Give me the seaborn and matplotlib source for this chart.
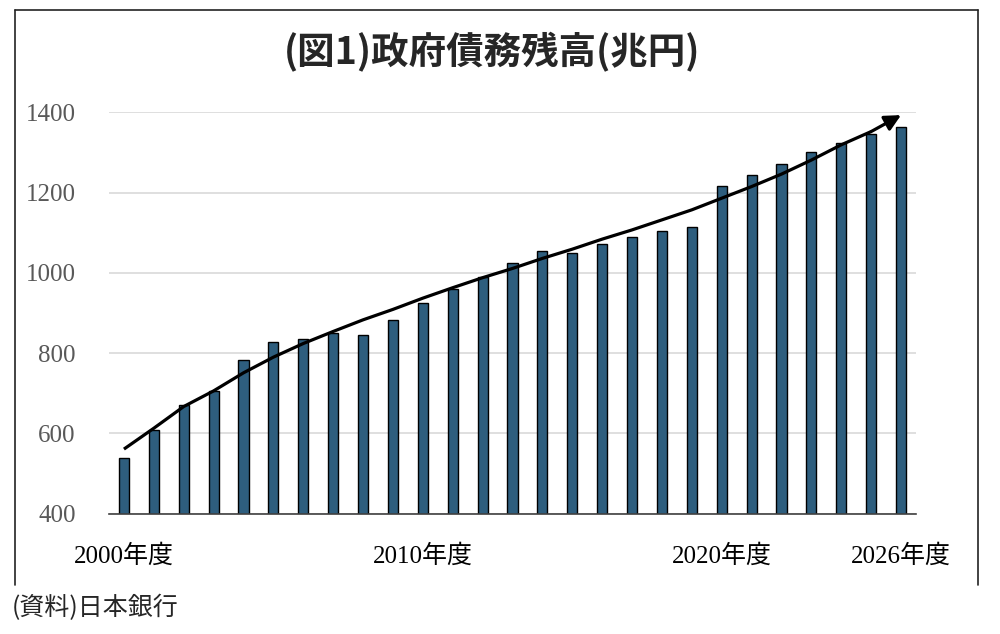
import numpy as np
import pandas as pd
import matplotlib
matplotlib.use('Agg')
import matplotlib.pyplot as plt
import seaborn as sns
from matplotlib.lines import Line2D

# Government debt outstanding (trillion yen), fiscal years 2000-2026
years = list(range(2000, 2027))
debt = [540, 608, 670, 705, 783, 829, 835, 849, 846, 883,
        925, 961, 990, 1025, 1054, 1050, 1072, 1089, 1104, 1115,
        1217, 1243, 1272, 1300, 1324, 1346, 1364]
# hand-drawn trend arrow, read per year
trend = [561, 613, 667, 706, 751, 790, 824, 854, 883, 909,
         937, 963, 988, 1011, 1036, 1059, 1084, 1107, 1132, 1157,
         1186, 1215, 1246, 1281, 1319, 1352, 1393]
tick_years = [2000, 2010, 2020, 2026]

title = "(図1)政府債務残高(兆円)"
source = "(資料)日本銀行"

sns.set_theme(style="white")
plt.rcParams['font.family'] = ['Liberation Serif', 'Noto Sans CJK JP']

df = pd.DataFrame({"year": [str(y) for y in years], "debt": debt})

fig = plt.figure(figsize=(10, 6.34), dpi=100)
ax = fig.add_axes([0.109, 0.1897, 0.807, 0.6332])

sns.barplot(data=df, x="year", y="debt", color="#2E5E7E", width=0.34,
            edgecolor="black", linewidth=1.0, saturation=1, ax=ax, zorder=3)

# trend curve with arrow head
pos = np.arange(len(years))
ax.plot(pos[:-1], trend[:-1], color="black", lw=2.3, zorder=4,
        solid_capstyle="butt", solid_joinstyle="round", clip_on=False)
ax.annotate("", xy=(pos[-1], trend[-1]), xytext=(pos[-2], trend[-2]),
            arrowprops=dict(arrowstyle="-|>", color="black", lw=2.3,
                            mutation_scale=24, shrinkA=0, shrinkB=0),
            zorder=5, annotation_clip=False)

ax.set_ylim(400, 1400)
ax.set_xlim(-0.5, len(years) - 0.5)
ax.set_yticks([400, 600, 800, 1000, 1200, 1400])
ax.yaxis.grid(True, color="#d9d9d9", lw=1.2, zorder=0)
ax.set_axisbelow(True)
for s in ["top", "right", "left"]:
    ax.spines[s].set_visible(False)
ax.spines["bottom"].set_color("#404040")
ax.spines["bottom"].set_linewidth(1.2)
ax.spines["bottom"].set_zorder(6)

ax.set_xticks([years.index(y) for y in tick_years])
ax.set_xticklabels([f"{y}年度" for y in tick_years])
ax.tick_params(axis="x", length=0, pad=22, labelsize=18, labelcolor="black")
ax.tick_params(axis="y", length=0, pad=24, labelsize=18, labelcolor="#595959")
ax.set_xlabel("")
ax.set_ylabel("")

fig.text(0.492, 1 - 52 / 634, title, ha="center", va="center",
         fontsize=27, fontweight="bold", family=["Noto Sans CJK JP"])
fig.text(0.012, 1 - 608 / 634, source, ha="left", va="center",
         fontsize=18, family=["Noto Sans CJK JP"])

# frame around the chart (open at the bottom)
x0, x1 = 0.015, 0.978
y0, y1 = 1 - 585 / 634, 1 - 10 / 634
for xs, ys in [([x0, x0], [y0, y1]), ([x1, x1], [y0, y1]), ([x0, x1], [y1, y1])]:
    fig.add_artist(Line2D(xs, ys, color="#222222", lw=1.2, transform=fig.transFigure))

fig.savefig("out.png", dpi=100, facecolor="white")
plt.close(fig)
